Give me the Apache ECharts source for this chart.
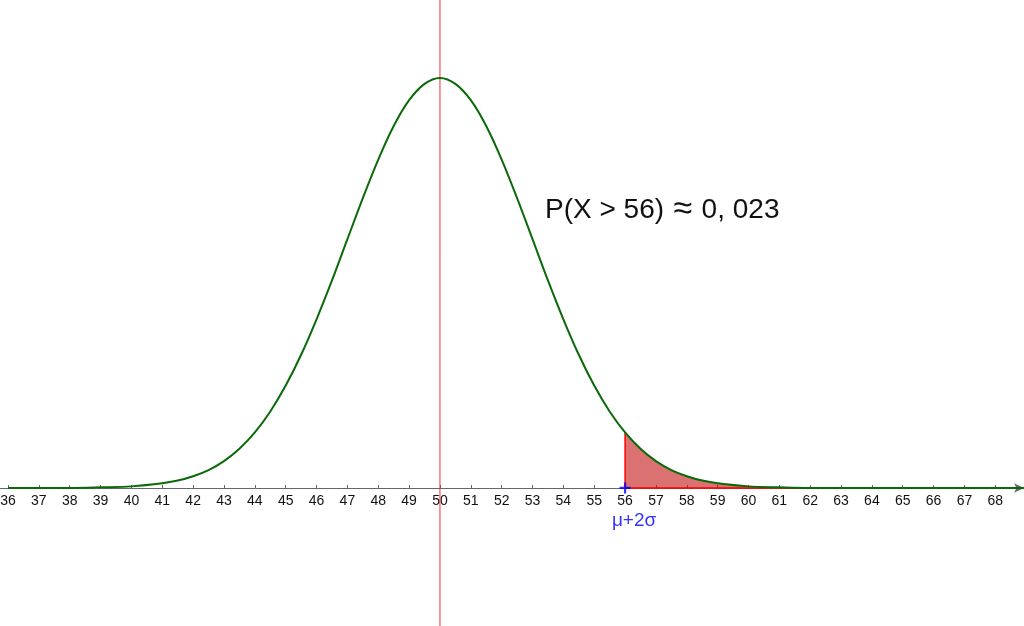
<!DOCTYPE html>
<html>
<head>
<meta charset="utf-8">
<script src="https://cdn.jsdelivr.net/npm/echarts@6/dist/echarts.min.js"></script>
<style>
  html, body { margin: 0; padding: 0; background: #fff; }
  #chart { width: 1024px; height: 626px; }
</style>
</head>
<body>
<div id="chart"></div>
<script>
  // density curve (mean 50)
  var curveX = [36, 37, 38, 39, 40, 41, 41.5, 42, 42.5, 43, 43.5, 44, 44.5, 45, 45.5, 46, 46.5, 47, 47.5, 48, 48.5, 49, 49.5,
                50, 50.5, 51, 51.5, 52, 52.5, 53, 53.5, 54, 54.5, 55, 55.5, 56, 56.5, 57, 57.5, 58, 58.5, 59, 60, 61, 62, 63, 64, 65, 66, 67, 68, 69];
  var curveY = [0, 0, 0, 0.0002, 0.0005, 0.0015, 0.0024, 0.0038, 0.0058, 0.0087, 0.0127, 0.0180, 0.0248, 0.0332, 0.0432, 0.0547, 0.0673, 0.0807, 0.0940, 0.1065, 0.1174, 0.1258, 0.1311,
                0.1330, 0.1311, 0.1258, 0.1174, 0.1065, 0.0940, 0.0807, 0.0673, 0.0547, 0.0432, 0.0332, 0.0248, 0.0180, 0.0127, 0.0087, 0.0058, 0.0038, 0.0024, 0.0015, 0.0005, 0.0002, 0, 0, 0, 0, 0, 0, 0, 0];
  // shaded tail, x > 56
  var tailX = [56, 56, 56.5, 57, 57.5, 58, 58.5, 59, 60, 61, 62, 69];
  var tailY = [0, 0.0180, 0.0127, 0.0087, 0.0058, 0.0038, 0.0024, 0.0015, 0.0005, 0.0002, 0, 0];
  var tickValues = [36, 37, 38, 39, 40, 41, 42, 43, 44, 45, 46, 47, 48, 49, 50, 51, 52, 53, 54, 55, 56, 57, 58, 59, 60, 61, 62, 63, 64, 65, 66, 67, 68];
  var mu = 50;
  var cut = 56;
  var probParts = ['P(X > 56)', ' ≈ ', '0, 023'];
  var pointLabel = 'μ+2σ';

  var xMin = 35.74, xMax = 68.93, yMin = -0.0448, yMax = 0.1583;
  var H = 626;
  // pixel offset of y=0 above the bottom edge
  var zeroUp = Math.round(H * (0 - yMin) / (yMax - yMin));

  function zip(a, b) {
    return a.map(function (v, i) { return [v, b[i]]; });
  }

  var chart = echarts.init(document.getElementById('chart'));
  var option = {
    animation: false,
    grid: { left: 0, right: 0, top: 0, bottom: 0, containLabel: false, outerBoundsMode: 'none' },
    xAxis: {
      type: 'value',
      min: xMin,
      max: xMax,
      offset: -zeroUp,
      splitLine: { show: false },
      axisLine: {
        onZero: false,
        symbol: ['none', 'arrow'],
        symbolSize: [7, 10],
        lineStyle: { color: '#666', width: 1 }
      },
      axisTick: { customValues: tickValues, inside: true, length: 3, lineStyle: { color: '#666' } },
      axisLabel: {
        customValues: tickValues,
        color: '#111',
        fontSize: 14,
        fontFamily: 'Liberation Sans',
        margin: 6
      }
    },
    yAxis: {
      type: 'value',
      min: yMin,
      max: yMax,
      show: false,
      splitLine: { show: false }
    },
    series: [{
      // shaded area
      type: 'line',
      data: zip(tailX, tailY),
      symbol: 'none',
      lineStyle: { width: 0 },
      areaStyle: { color: 'rgba(195,10,10,0.58)', opacity: 1, origin: 0 },
      z: 2
    }, {
      // red border of the area
      type: 'line',
      data: [[cut, tailY[1]], [cut, 0], [tailX[tailX.length - 1], 0]],
      symbol: 'none',
      lineStyle: { color: '#ff0000', width: 1.5 },
      z: 3
    }, {
      // mean line
      type: 'line',
      data: [[mu, yMin], [mu, yMax]],
      symbol: 'none',
      lineStyle: { color: '#ee3333', width: 1 },
      z: 4
    }, {
      // density curve
      type: 'line',
      data: zip(curveX, curveY),
      smooth: 0.3,
      symbol: 'none',
      lineStyle: { color: '#0a6a0a', width: 2 },
      z: 5
    }, {
      type: 'scatter',
      data: [[cut, 0]],
      symbol: 'path://M4,0 L6,0 L6,4 L10,4 L10,6 L6,6 L6,10 L4,10 L4,6 L0,6 L0,4 L4,4 Z',
      symbolSize: 11,
      itemStyle: { color: '#0000ff' },
      label: {
        show: true,
        position: 'bottom',
        distance: 18,
        offset: [9, 0],
        formatter: pointLabel,
        color: '#0000ff',
        fontSize: 19,
        fontFamily: 'Liberation Sans'
      },
      z: 6
    }],
    graphic: [{
      type: 'text',
      left: 545,
      top: 193,
      style: {
        text: '{t|' + probParts[0] + '}{a|' + probParts[1] + '}{t|' + probParts[2] + '}',
        fill: '#111',
        fontFamily: 'Liberation Sans',
        rich: {
          t: { fontSize: 28, fontFamily: 'Liberation Sans', fill: '#111', verticalAlign: 'middle' },
          a: { fontSize: 34, fontFamily: 'Liberation Sans', fill: '#111', verticalAlign: 'middle' }
        }
      }
    }]
  };
  chart.setOption(option);
</script>
</body>
</html>
